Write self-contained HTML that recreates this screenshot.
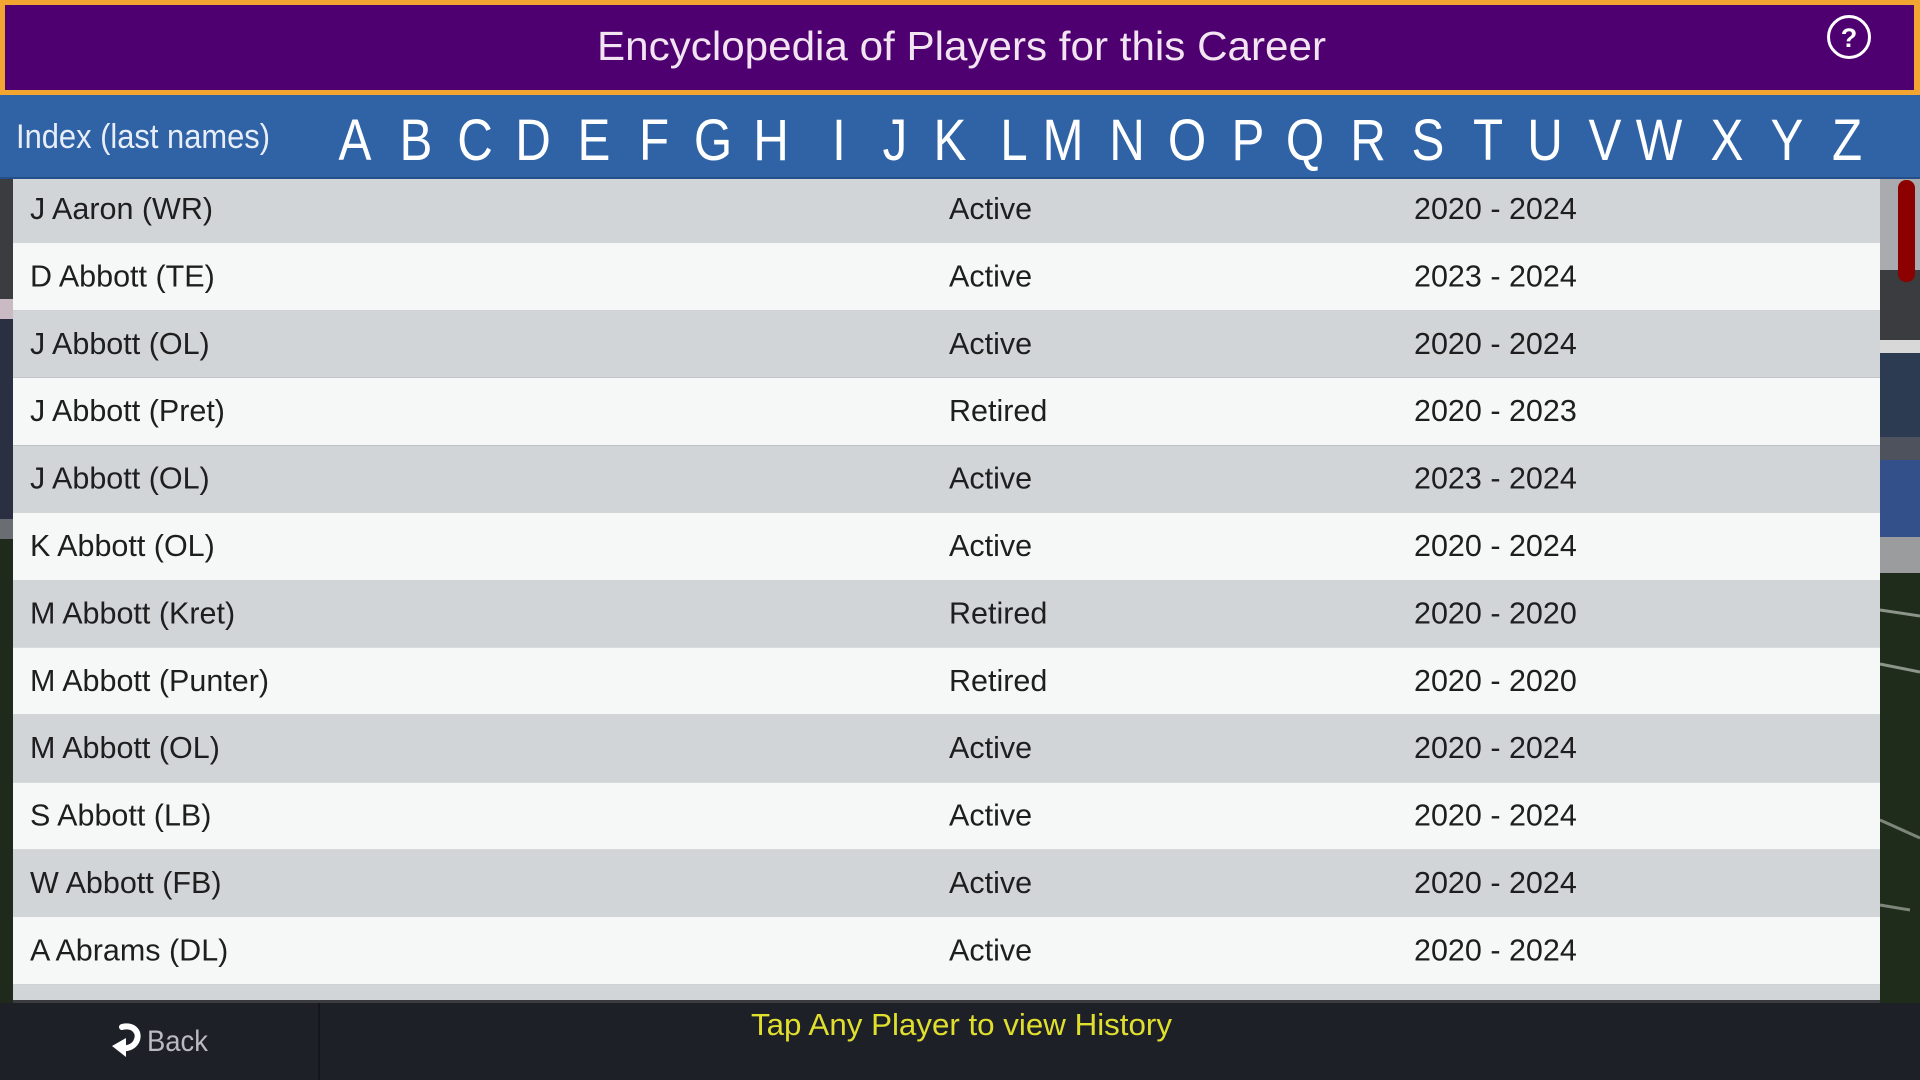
<!DOCTYPE html>
<html>
<head>
<meta charset="utf-8">
<style>
  html,body{margin:0;padding:0;background:#1e2027;}
  body{width:1920px;height:1080px;overflow:hidden;}
  svg{display:block;}
  text{font-family:"Liberation Sans","DejaVu Sans",sans-serif;}
</style>
</head>
<body>
<svg width="1920" height="1080" viewBox="0 0 1920 1080" xmlns="http://www.w3.org/2000/svg">

  <!-- Background stadium (right strip) -->
  <rect x="1880" y="179" width="40" height="824" fill="#1d2919"/>
  <rect x="1880" y="179" width="40" height="91" fill="#a9abae"/>
  <rect x="1880" y="270" width="40" height="70" fill="#3a3c3f"/>
  <rect x="1880" y="340" width="40" height="13" fill="#d8d8d8"/>
  <rect x="1880" y="353" width="40" height="84" fill="#2c3a52"/>
  <rect x="1880" y="437" width="40" height="23" fill="#4d525c"/>
  <rect x="1880" y="460" width="40" height="77" fill="#34508a"/>
  <rect x="1880" y="537" width="40" height="36" fill="#9a9c9e"/>
  <rect x="1880" y="573" width="40" height="430" fill="#1f2b1b"/>
  <line x1="1880" y1="610" x2="1920" y2="616" stroke="#8d948a" stroke-width="3"/>
  <line x1="1880" y1="664" x2="1920" y2="672" stroke="#8d948a" stroke-width="3"/>
  <line x1="1880" y1="820" x2="1920" y2="838" stroke="#7e857a" stroke-width="3"/>
  <line x1="1880" y1="905" x2="1910" y2="910" stroke="#7e857a" stroke-width="3"/>

  <!-- Background stadium (left strip) -->
  <rect x="0" y="179" width="13" height="824" fill="#232a22"/>
  <rect x="0" y="179" width="13" height="120" fill="#3a3c40"/>
  <rect x="0" y="299" width="13" height="20" fill="#c9bac4"/>
  <rect x="0" y="319" width="13" height="200" fill="#2a3042"/>
  <rect x="0" y="519" width="13" height="20" fill="#6a6e72"/>
  <rect x="0" y="539" width="13" height="464" fill="#1f2a1c"/>

  <!-- Header: orange frame + purple -->
  <rect x="0" y="0" width="1920" height="95" fill="#f2a531"/>
  <rect x="5" y="5" width="1909" height="85" fill="#4f0070"/>
  <text x="597" y="60" font-size="41" fill="#f2e4f0" textLength="729" lengthAdjust="spacingAndGlyphs">Encyclopedia of Players for this Career</text>
  <!-- help icon -->
  <circle cx="1849" cy="37" r="20.5" fill="none" stroke="#ffffff" stroke-width="3"/>
  <text x="1849" y="47" font-size="27" font-weight="bold" fill="#ffffff" text-anchor="middle">?</text>

  <!-- Blue index bar -->
  <rect x="0" y="95" width="1920" height="84" fill="#2f63a6"/>
  <rect x="0" y="177" width="1920" height="2" fill="#24508a"/>
  <text x="16" y="148" font-size="34" fill="#e8eef8" textLength="254" lengthAdjust="spacingAndGlyphs">Index (last names)</text>
  <g font-size="58" fill="#ffffff" text-anchor="middle">
    <text transform="translate(355 160) scale(0.85 1)">A</text>
    <text transform="translate(416 160) scale(0.85 1)">B</text>
    <text transform="translate(475 160) scale(0.85 1)">C</text>
    <text transform="translate(533 160) scale(0.85 1)">D</text>
    <text transform="translate(594 160) scale(0.85 1)">E</text>
    <text transform="translate(654 160) scale(0.85 1)">F</text>
    <text transform="translate(713 160) scale(0.85 1)">G</text>
    <text transform="translate(771 160) scale(0.85 1)">H</text>
    <text transform="translate(839 160) scale(0.85 1)">I</text>
    <text transform="translate(895 160) scale(0.85 1)">J</text>
    <text transform="translate(950 160) scale(0.85 1)">K</text>
    <text transform="translate(1014 160) scale(0.85 1)">L</text>
    <text transform="translate(1063 160) scale(0.85 1)">M</text>
    <text transform="translate(1127 160) scale(0.85 1)">N</text>
    <text transform="translate(1187 160) scale(0.85 1)">O</text>
    <text transform="translate(1248 160) scale(0.85 1)">P</text>
    <text transform="translate(1305 160) scale(0.85 1)">Q</text>
    <text transform="translate(1368 160) scale(0.85 1)">R</text>
    <text transform="translate(1428 160) scale(0.85 1)">S</text>
    <text transform="translate(1488 160) scale(0.85 1)">T</text>
    <text transform="translate(1545 160) scale(0.85 1)">U</text>
    <text transform="translate(1605 160) scale(0.85 1)">V</text>
    <text transform="translate(1659 160) scale(0.85 1)">W</text>
    <text transform="translate(1727 160) scale(0.85 1)">X</text>
    <text transform="translate(1787 160) scale(0.85 1)">Y</text>
    <text transform="translate(1847 160) scale(0.85 1)">Z</text>
  </g>

  <!-- Table rows -->
  <g>
    <rect x="13" y="179" width="1867" height="64" fill="#d1d5d8"/>
    <rect x="13" y="243" width="1867" height="67.4" fill="#f6f8f8"/>
    <rect x="13" y="310.4" width="1867" height="67.4" fill="#d1d5d8"/>
    <rect x="13" y="377.8" width="1867" height="67.4" fill="#f6f8f8"/>
    <rect x="13" y="445.2" width="1867" height="67.4" fill="#d1d5d8"/>
    <rect x="13" y="512.6" width="1867" height="67.4" fill="#f6f8f8"/>
    <rect x="13" y="580" width="1867" height="67.4" fill="#d1d5d8"/>
    <rect x="13" y="647.4" width="1867" height="67.4" fill="#f6f8f8"/>
    <rect x="13" y="714.8" width="1867" height="67.4" fill="#d1d5d8"/>
    <rect x="13" y="782.2" width="1867" height="67.4" fill="#f6f8f8"/>
    <rect x="13" y="849.6" width="1867" height="67.4" fill="#d1d5d8"/>
    <rect x="13" y="917" width="1867" height="67.4" fill="#f6f8f8"/>
    <rect x="13" y="984.4" width="1867" height="16" fill="#d1d5d8"/>
    <rect x="13" y="1000" width="1867" height="3" fill="#3a3c40"/>
  </g>

  <g font-size="30.5" fill="#1e1e1e">
    <text x="30" y="219">J Aaron (WR)</text>
    <text x="949" y="219">Active</text>
    <text x="1414" y="219">2020 - 2024</text>

    <text x="30" y="286.4">D Abbott (TE)</text>
    <text x="949" y="286.4">Active</text>
    <text x="1414" y="286.4">2023 - 2024</text>

    <text x="30" y="353.8">J Abbott (OL)</text>
    <text x="949" y="353.8">Active</text>
    <text x="1414" y="353.8">2020 - 2024</text>

    <text x="30" y="421.2">J Abbott (Pret)</text>
    <text x="949" y="421.2">Retired</text>
    <text x="1414" y="421.2">2020 - 2023</text>

    <text x="30" y="488.6">J Abbott (OL)</text>
    <text x="949" y="488.6">Active</text>
    <text x="1414" y="488.6">2023 - 2024</text>

    <text x="30" y="556">K Abbott (OL)</text>
    <text x="949" y="556">Active</text>
    <text x="1414" y="556">2020 - 2024</text>

    <text x="30" y="623.4">M Abbott (Kret)</text>
    <text x="949" y="623.4">Retired</text>
    <text x="1414" y="623.4">2020 - 2020</text>

    <text x="30" y="690.8">M Abbott (Punter)</text>
    <text x="949" y="690.8">Retired</text>
    <text x="1414" y="690.8">2020 - 2020</text>

    <text x="30" y="758.2">M Abbott (OL)</text>
    <text x="949" y="758.2">Active</text>
    <text x="1414" y="758.2">2020 - 2024</text>

    <text x="30" y="825.6">S Abbott (LB)</text>
    <text x="949" y="825.6">Active</text>
    <text x="1414" y="825.6">2020 - 2024</text>

    <text x="30" y="893">W Abbott (FB)</text>
    <text x="949" y="893">Active</text>
    <text x="1414" y="893">2020 - 2024</text>

    <text x="30" y="960.4">A Abrams (DL)</text>
    <text x="949" y="960.4">Active</text>
    <text x="1414" y="960.4">2020 - 2024</text>
  </g>

  <!-- Scrollbar -->
  <rect x="1898" y="180" width="17" height="102" rx="8" ry="8" fill="#8c0000"/>

  <!-- Bottom bar -->
  <rect x="0" y="1003" width="1920" height="77" fill="#1e2027"/>
  <rect x="318" y="1003" width="2" height="77" fill="#15161b"/>
  <!-- back arrow icon -->
  <path d="M122 1027 C 134 1024, 141 1033, 136 1042 C 133 1047, 127 1049, 122 1048" fill="none" stroke="#ffffff" stroke-width="6" stroke-linecap="round"/>
  <path d="M112 1046 L 126 1038 L 126 1057 Z" fill="#ffffff"/>
  <text x="147" y="1051" font-size="30" fill="#b9bac2" textLength="61" lengthAdjust="spacingAndGlyphs">Back</text>
  <text x="751" y="1035" font-size="31" fill="#e0df2e" textLength="421" lengthAdjust="spacingAndGlyphs">Tap Any Player to view History</text>
</svg>
</body>
</html>
